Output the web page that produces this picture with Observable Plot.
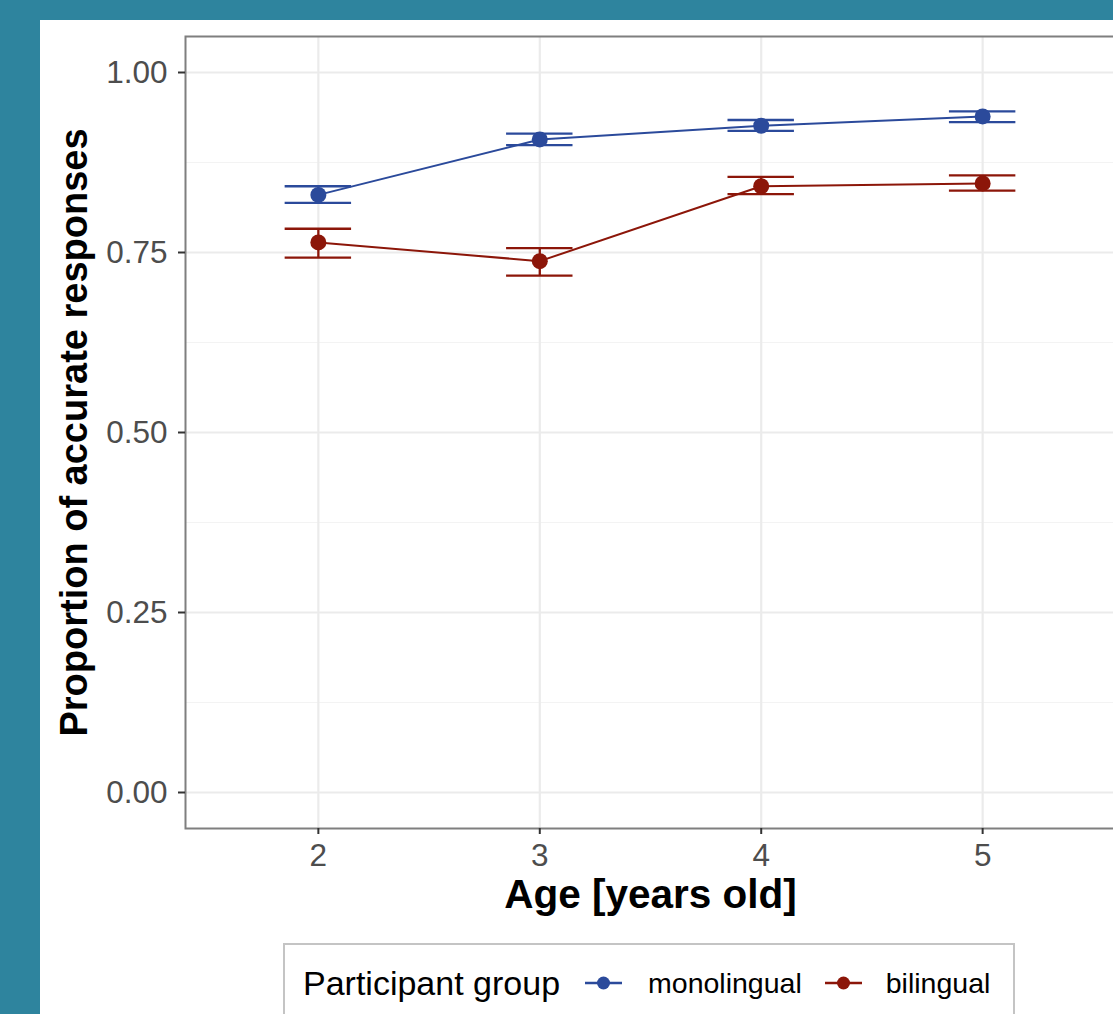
<!DOCTYPE html>
<html>
<head>
<meta charset="utf-8">
<script src="https://cdn.jsdelivr.net/npm/d3@7"></script>
<script src="https://cdn.jsdelivr.net/npm/@observablehq/plot@0.6"></script>
<style>
  html, body { margin: 0; padding: 0; }
  body { width: 1113px; height: 1014px; background: #2e849e; position: relative; overflow: hidden; font-family: "Liberation Sans", Arial, sans-serif; }
  #panel { position: absolute; left: 40px; top: 20px; width: 1073px; height: 994px; background: white; overflow: hidden; }
  #chart { position: absolute; left: 0; top: 0; width: 1080px; }
  #chart svg { max-width: none !important; }
  #legend { position: absolute; left: 243px; top: 923px; width: 732px; height: 120px; box-sizing: border-box; border: 2px solid #c4c4c4; }
  #legend .row { display: flex; align-items: center; height: 76px; padding-left: 18px; white-space: nowrap; }
  #legend .ttl { font-size: 34px; color: #000; }
  #legend .lab { font-size: 28.5px; color: #000; }
</style>
</head>
<body>
<div id="panel">
  <div id="chart"></div>
  <div id="legend"><div class="row" id="legrow"></div></div>
</div>
<script>
// ---- data ----
const ages = [2, 3, 4, 5];
const groups = ["monolingual", "bilingual"];
const monoMean = [0.830, 0.907, 0.926, 0.939];
const monoLo   = [0.819, 0.899, 0.919, 0.931];
const monoHi   = [0.842, 0.915, 0.934, 0.946];
const biMean   = [0.764, 0.738, 0.842, 0.846];
const biLo     = [0.743, 0.718, 0.831, 0.836];
const biHi     = [0.783, 0.756, 0.855, 0.857];
const yTicks = [0, 0.25, 0.5, 0.75, 1];
const yMinor = [0.125, 0.375, 0.625, 0.875];
const xTicks = [2, 3, 4, 5];
const xTitle = "Age [years old]";
const yTitle = "Proportion of accurate responses";
const legendTitle = "Participant group";
const colors = ["#2b4a9b", "#8c1609"];

const data = [];
ages.forEach((a, i) => {
  data.push({group: groups[0], age: a, mean: monoMean[i], lo: monoLo[i], hi: monoHi[i]});
});
ages.forEach((a, i) => {
  data.push({group: groups[1], age: a, mean: biMean[i], lo: biLo[i], hi: biHi[i]});
});

const capHalf = 0.15;

const chart = Plot.plot({
  width: 1080,
  height: 900,
  marginLeft: 145,
  marginRight: 5,
  marginTop: 16,
  marginBottom: 92,
  style: {fontFamily: "'Liberation Sans', Arial, sans-serif", background: "white", overflow: "visible", maxWidth: "none"},
  x: {domain: [1.4, 5.6], label: null},
  y: {domain: [-0.05, 1.05], label: null},
  color: {domain: groups, range: colors},
  marks: [
    Plot.ruleY(yMinor, {stroke: "#f3f3f3", strokeWidth: 1.2}),
    Plot.ruleY(yTicks, {stroke: "#ebebeb", strokeWidth: 2.2}),
    Plot.ruleX(xTicks, {stroke: "#ebebeb", strokeWidth: 2.2}),
    Plot.frame({stroke: "#7f7f7f", strokeWidth: 2}),
    Plot.axisX(xTicks, {tickSize: 6, tickPadding: 9, fontSize: 31.5, fill: "#4d4d4d", stroke: "#333333", strokeWidth: 2, tickFormat: d => String(d), label: null}),
    Plot.axisY(yTicks, {tickSize: 7, tickPadding: 11, fontSize: 31.5, fill: "#4d4d4d", stroke: "#333333", strokeWidth: 2, tickFormat: d3.format(".2f"), label: null}),
    Plot.ruleX(data, {x: "age", y1: "lo", y2: "hi", stroke: "group", strokeWidth: 2.3}),
    Plot.ruleY(data, {y: "lo", x1: d => d.age - capHalf, x2: d => d.age + capHalf, stroke: "group", strokeWidth: 2.3}),
    Plot.ruleY(data, {y: "hi", x1: d => d.age - capHalf, x2: d => d.age + capHalf, stroke: "group", strokeWidth: 2.3}),
    Plot.line(data, {x: "age", y: "mean", z: "group", stroke: "group", strokeWidth: 2}),
    Plot.dot(data, {x: "age", y: "mean", fill: "group", r: 8}),
    Plot.text([xTitle], {text: d => d, frameAnchor: "bottom", lineAnchor: "bottom", dy: 79, fontSize: 40.5, fontWeight: "bold", fill: "black"}),
    Plot.text([yTitle], {text: d => d, frameAnchor: "left", textAnchor: "middle", lineAnchor: "bottom", rotate: -90, dx: -99, fontSize: 38, fontWeight: "bold", fill: "black"})
  ]
});
document.getElementById("chart").appendChild(chart);

// ---- legend ----
const row = document.getElementById("legrow");
const t = document.createElement("span");
t.className = "ttl";
t.textContent = legendTitle;
row.appendChild(t);
const gaps = [[25, 26], [23, 24]];
groups.forEach((g, i) => {
  const key = document.createElementNS("http://www.w3.org/2000/svg", "svg");
  key.setAttribute("width", 37);
  key.setAttribute("height", 20);
  key.style.marginLeft = gaps[i][0] + "px";
  key.innerHTML = `<line x1="0" x2="37" y1="10" y2="10" stroke="${colors[i]}" stroke-width="2.6"/><circle cx="18.5" cy="10" r="6.5" fill="${colors[i]}"/>`;
  row.appendChild(key);
  const lab = document.createElement("span");
  lab.className = "lab";
  lab.style.marginLeft = gaps[i][1] + "px";
  lab.textContent = g;
  row.appendChild(lab);
});
</script>
</body>
</html>
